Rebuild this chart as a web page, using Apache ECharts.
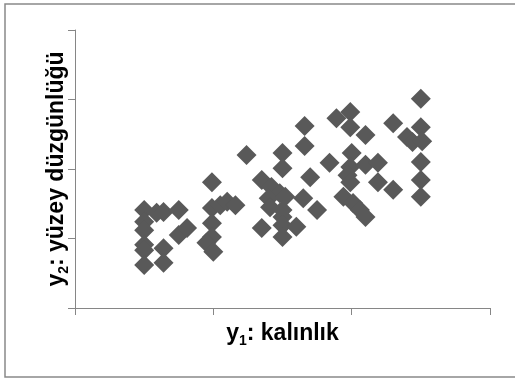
<!DOCTYPE html>
<html>
<head>
<meta charset="utf-8">
<script src="https://cdn.jsdelivr.net/npm/echarts@6/dist/echarts.min.js"></script>
<style>
  html, body { margin: 0; padding: 0; background: #ffffff; }
  #chart { width: 515px; height: 383px; }
</style>
</head>
<body>
<div id="chart"></div>
<script>
// Thickness (y1) against surface smoothness (y2) measurements.
const thickness = [
  0.50, 0.59, 0.64, 0.75, 0.50, 0.50, 0.50, 0.50, 0.50, 0.64, 0.64, 0.75, 0.81,
  0.99, 0.99, 1.05, 1.10, 1.16, 0.99, 0.99, 0.95, 1.00,
  1.24, 1.66, 1.66, 1.50, 1.50, 1.70, 1.35, 1.42, 1.48, 1.40, 1.52, 1.41, 1.50,
  1.50, 1.50, 1.60, 1.35, 1.50, 1.65, 1.75,
  1.89, 1.99, 1.99, 2.10, 1.84, 2.00, 1.99, 1.97, 1.99, 2.10, 2.19, 2.19, 1.94,
  2.01, 2.06, 2.10,
  2.50, 2.30, 2.50, 2.40, 2.44, 2.51, 2.50, 2.50, 2.50, 2.30
];
const smoothness = [
  1.41, 1.37, 1.38, 1.41, 1.24, 1.12, 0.91, 0.83, 0.62, 0.86, 0.65, 1.05, 1.15,
  1.81, 1.44, 1.48, 1.53, 1.48, 1.22, 1.02, 0.94, 0.81,
  2.20, 2.62, 2.33, 2.23, 2.01, 1.88, 1.84, 1.74, 1.65, 1.58, 1.60, 1.45, 1.41,
  1.31, 1.19, 1.17, 1.15, 1.02, 1.58, 1.41,
  2.73, 2.82, 2.60, 2.49, 2.09, 2.23, 2.03, 1.91, 1.81, 2.06, 2.09, 1.81, 1.60,
  1.51, 1.41, 1.31,
  3.01, 2.66, 2.60, 2.46, 2.39, 2.40, 2.10, 1.84, 1.60, 1.70
];

const xTitle = '{t|y}{s|1}{t|: kalınlık}';
const yTitle = '{t|y}{s|2}{t|: yüzey düzgünlüğü}';

const points = thickness.map((x, i) => [x, smoothness[i]]);

const axisGray = '#868686';
const titleRich = {
  t: { fontFamily: 'Liberation Sans', fontWeight: 'bold', fontSize: 23, color: '#000', lineHeight: 28 },
  s: { fontFamily: 'Liberation Sans', fontWeight: 'bold', fontSize: 14, color: '#000', lineHeight: 15, verticalAlign: 'bottom' }
};

const chart = echarts.init(document.getElementById('chart'), null, { renderer: 'canvas' });
chart.setOption({
  animation: false,
  backgroundColor: '#ffffff',
  grid: { left: 75, right: 25, top: 30, bottom: 75, outerBoundsMode: 'none' },
  graphic: [{
    type: 'rect',
    shape: { x: 5, y: 4, width: 520, height: 373 },
    style: { fill: 'none', stroke: '#898989', lineWidth: 1.5 },
    silent: true
  }],
  xAxis: {
    type: 'value', min: 0, max: 3, interval: 1,
    name: xTitle, nameLocation: 'middle', nameGap: 12,
    nameTextStyle: { rich: titleRich },
    axisLine: { show: true, lineStyle: { color: axisGray, width: 1 } },
    axisTick: { show: true, length: 7, lineStyle: { color: axisGray } },
    axisLabel: { show: false },
    splitLine: { show: false }
  },
  yAxis: {
    type: 'value', min: 0, max: 4, interval: 1,
    name: yTitle, nameLocation: 'middle', nameGap: 4, nameRotate: 90,
    nameTextStyle: { rich: titleRich },
    axisLine: { show: true, lineStyle: { color: axisGray, width: 1 } },
    axisTick: { show: true, length: 7, lineStyle: { color: axisGray } },
    axisLabel: { show: false },
    splitLine: { show: false }
  },
  series: [{
    type: 'scatter',
    symbol: 'diamond',
    symbolSize: 20,
    itemStyle: { color: '#595959', opacity: 1 },
    data: points
  }]
});
</script>
</body>
</html>
